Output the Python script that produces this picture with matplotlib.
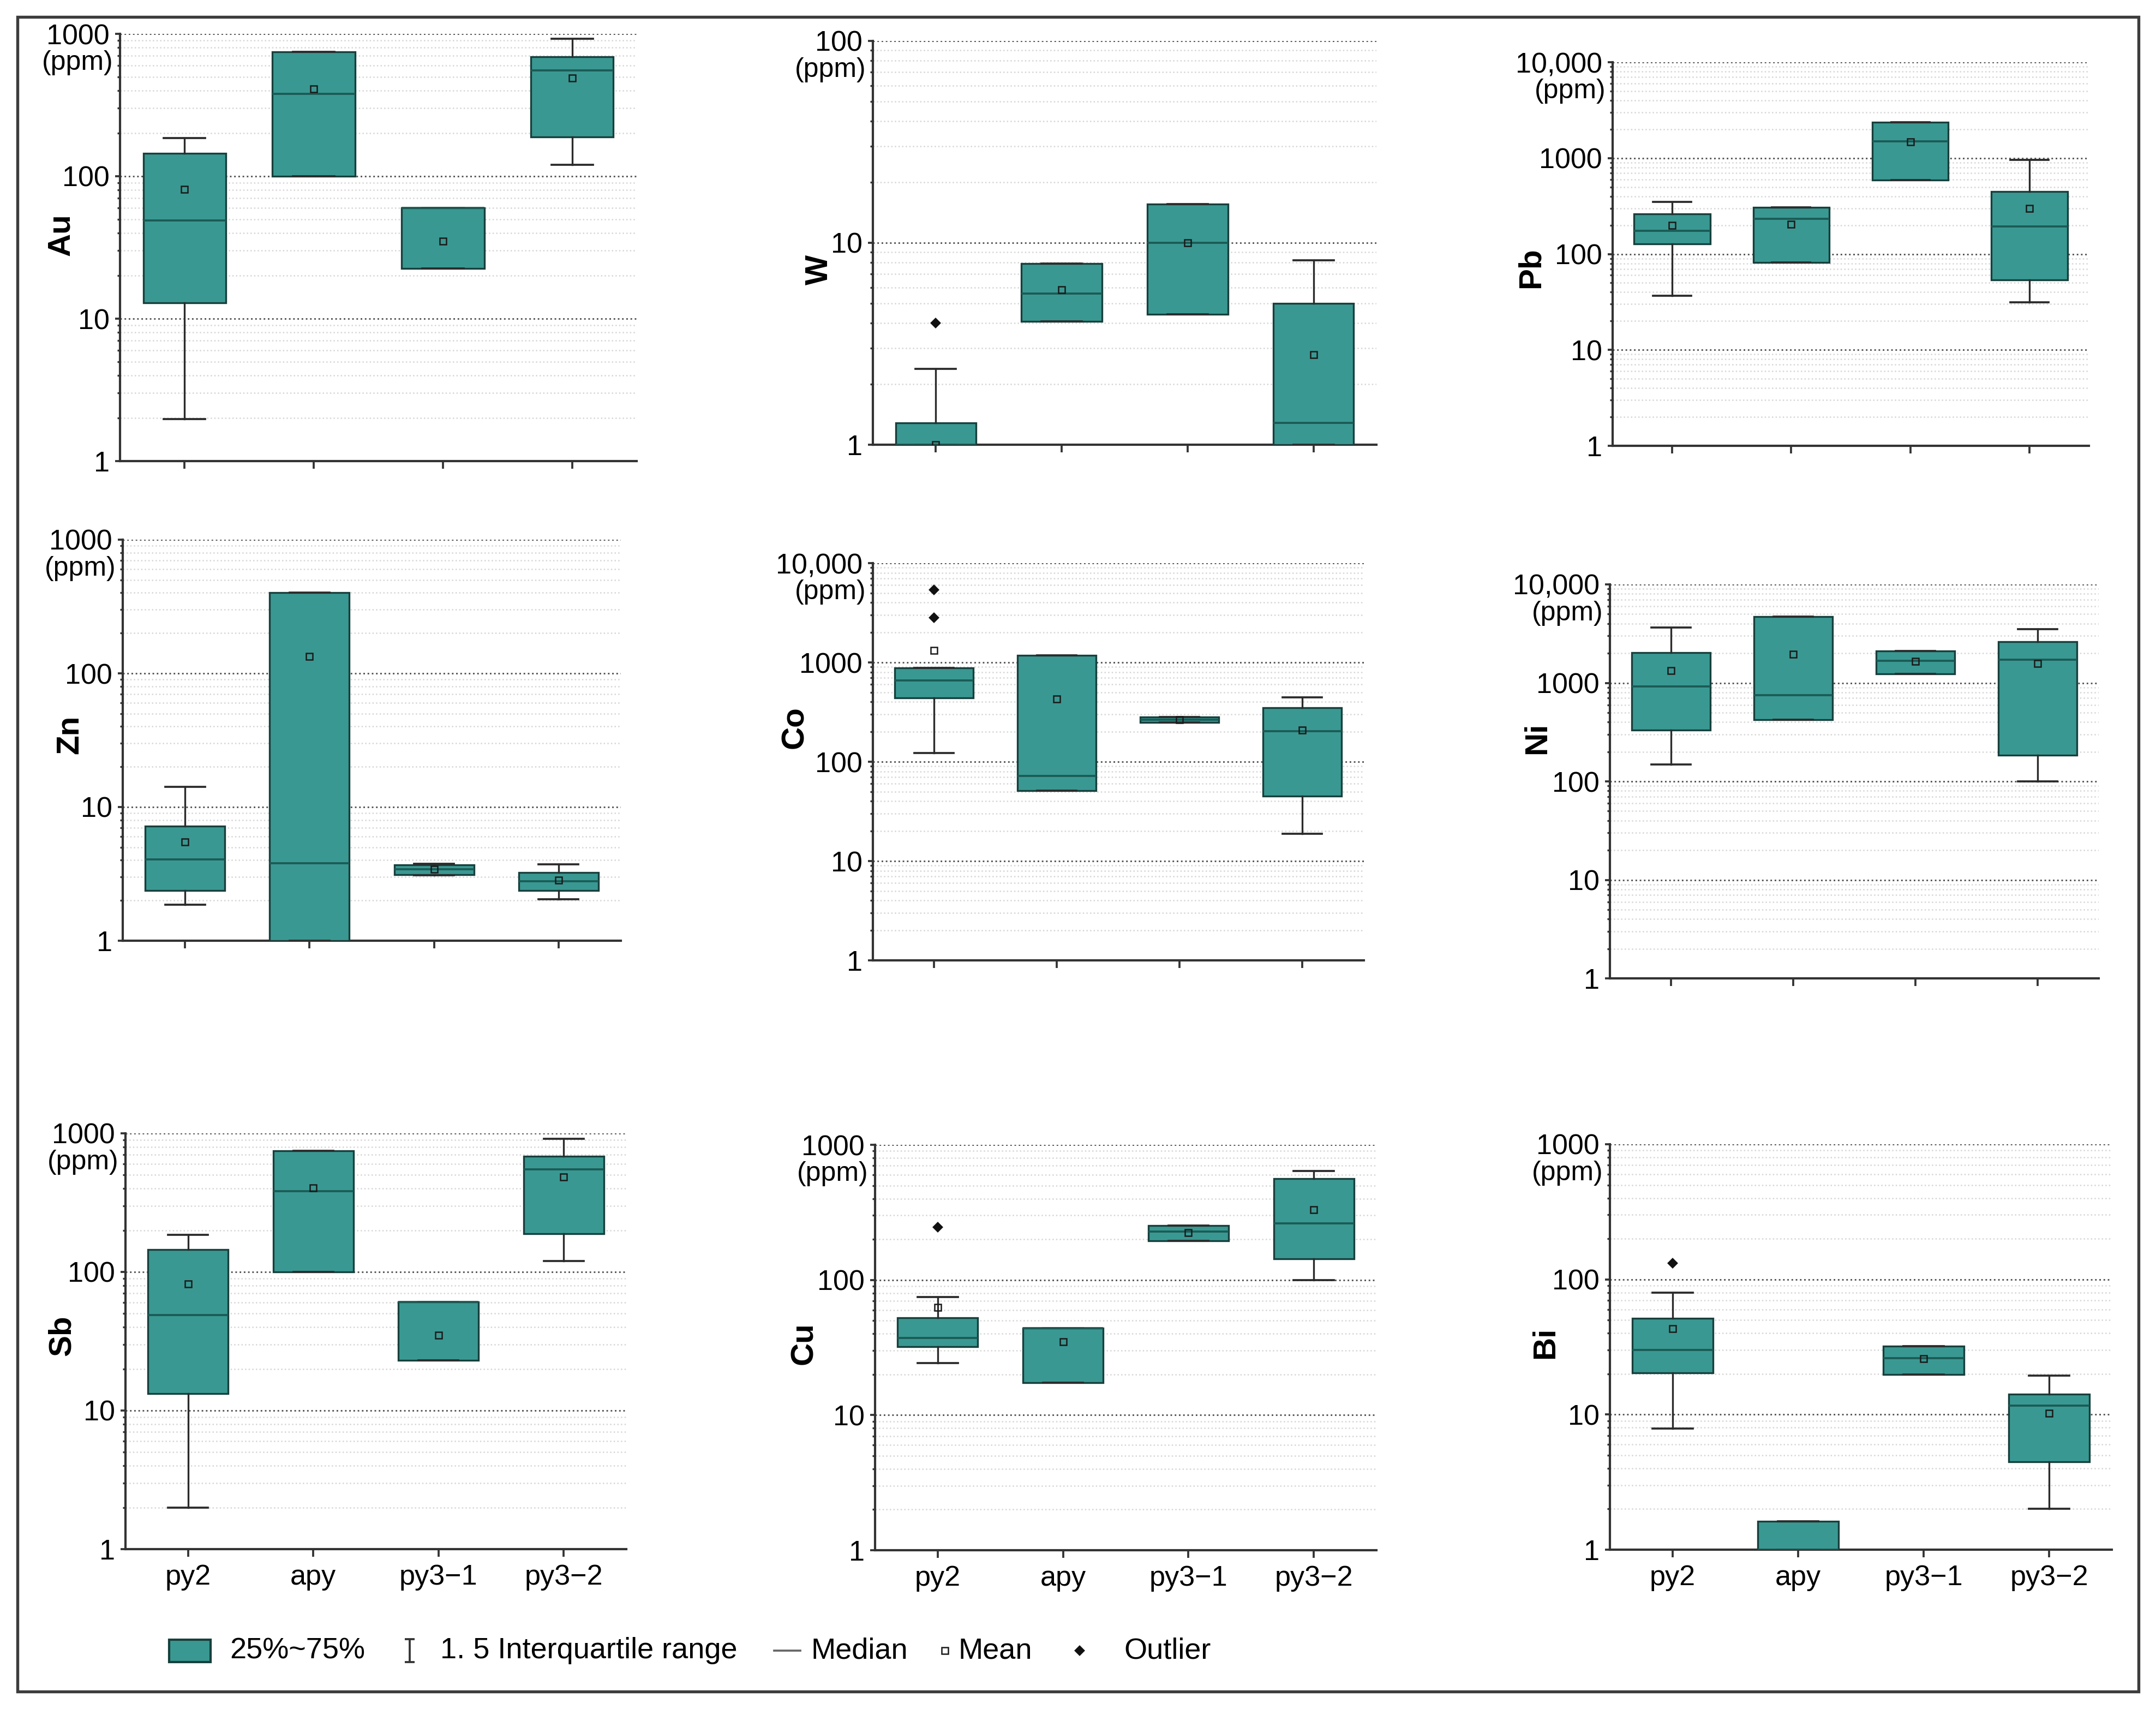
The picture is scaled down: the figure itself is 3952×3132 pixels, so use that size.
import numpy as np
import matplotlib
matplotlib.use("Agg")
import matplotlib.pyplot as plt
from matplotlib.patches import Rectangle
from matplotlib.lines import Line2D
from matplotlib.path import Path
from matplotlib.ticker import FixedLocator, FixedFormatter, LogLocator, NullFormatter

plt.rcParams['font.family'] = ['Liberation Sans', 'DejaVu Sans']

W_PX, H_PX = 3953, 3132
DPI = 300

groups = ["py2", "apy", "py3\u22121", "py3\u22122"]

# box statistics per element (ppm): lower whisker, Q1, median, Q3, upper whisker, mean, outliers
au = dict(lo=[1.97, 100, 22.6, 120], q1=[12.9, 100, 22.6, 189], med=[49, 380, 60, 553],
          q3=[145, 749, 60, 690], hi=[186, 749, 60, 922], mean=[81, 410, 35, 490],
          out=[[], [], [], []])
w = dict(lo=[1.0, 4.07, 4.43, 1.0], q1=[1.0, 4.07, 4.43, 1.0], med=[1.0, 5.6, 10, 1.28],
         q3=[1.28, 7.9, 15.6, 5.0], hi=[2.38, 7.9, 15.6, 8.2], mean=[1.0, 5.87, 10, 2.79],
         out=[[4.0], [], [], []])
pb = dict(lo=[36.5, 81.6, 590, 31.4], q1=[128, 81.6, 590, 53.6], med=[175, 232, 1500, 195],
          q3=[262, 307, 2360, 447], hi=[349, 307, 2360, 963], mean=[198, 204, 1470, 298],
          out=[[], [], [], []])
zn = dict(lo=[1.86, 1.0, 3.08, 2.05], q1=[2.38, 1.0, 3.11, 2.38], med=[4.05, 3.8, 3.41, 2.78],
          q3=[7.18, 402, 3.68, 3.24], hi=[14.2, 402, 3.75, 3.74], mean=[5.48, 134, 3.42, 2.83],
          out=[[], [], [], []])
co = dict(lo=[122, 50.9, 250, 18.8], q1=[437, 50.9, 250, 45.3], med=[656, 72, 265, 202],
          q3=[884, 1173, 281, 349], hi=[884, 1173, 281, 446], mean=[1318, 428, 265, 207],
          out=[[5395, 2805], [], [], []])
ni = dict(lo=[149, 424, 1232, 100], q1=[333, 424, 1232, 185], med=[918, 751, 1666, 1718],
          q3=[2037, 4732, 2100, 2630], hi=[3665, 4732, 2100, 3500], mean=[1331, 1945, 1650, 1578],
          out=[[], [], [], []])
sb = dict(lo=[2.0, 100, 23, 120], q1=[13.3, 100, 23, 189], med=[49, 382, 61, 551],
          q3=[145, 750, 61, 683], hi=[186, 750, 61, 914], mean=[81.6, 405, 35, 486],
          out=[[], [], [], []])
cu = dict(lo=[24.2, 17.3, 194, 100], q1=[32, 17.3, 194, 143], med=[37.3, 44, 228, 262],
          q3=[52.3, 44, 253, 564], hi=[75, 44, 253, 639], mean=[62.6, 34.9, 223, 332],
          out=[[246], [], [], []])
bi = dict(lo=[7.85, 1.0, 19.8, 2.0], q1=[20.3, 1.0, 19.8, 4.47], med=[30.1, 1.0, 26.2, 11.6],
          q3=[51.4, 1.62, 32, 14.2], hi=[79.8, 1.62, 32, 19.5], mean=[43, None, 25.9, 10.2],
          out=[[132], [], [], []])

TEAL = '#3a9892'
EDGE = '#173f3c'
MED = '#1b5a55'
WHISK = '#2b2b2b'
SPINE = '#333333'

# panel layout in pixels: left, top(value ymax), right, bottom(value 1), label x, label y
panels = [
    ("Au", au, 1000, (220, 62, 1167, 845), (112, 430), False),
    ("W", w, 100, (1600, 75, 2523, 815), (1502, 494), False),
    ("Pb", pb, 10000, (2956, 114, 3829, 817), (2807, 491), False),
    ("Zn", zn, 1000, (225, 989, 1138, 1724), (128, 1346), False),
    ("Co", co, 10000, (1600, 1032, 2500, 1760), (1457, 1333), False),
    ("Ni", ni, 10000, (2951, 1071, 3847, 1793), (2818, 1353), False),
    ("Sb", sb, 1000, (230, 2077, 1148, 2839), (114, 2448), True),
    ("Cu", cu, 1000, (1604, 2098, 2523, 2841), (1474, 2462), True),
    ("Bi", bi, 1000, (2951, 2097, 3871, 2840), (2833, 2461), True),
]

fig = plt.figure(figsize=(W_PX / DPI, H_PX / DPI), dpi=DPI)


def fx(px):
    return px / W_PX


def fy(py):
    return 1 - py / H_PX


pos = np.arange(1, 5)

for name, d, ymax, (l, t, r, b), (lx, ly), bottom in panels:
    ax = fig.add_axes([fx(l), fy(b), fx(r) - fx(l), fy(t) - fy(b)])
    stats = []
    for i in range(4):
        stats.append(dict(whislo=d["lo"][i], q1=d["q1"][i], med=d["med"][i], q3=d["q3"][i],
                          whishi=d["hi"][i], fliers=d["out"][i]))
    ax.bxp(stats, positions=pos, widths=0.64, patch_artist=True, showfliers=True,
           boxprops=dict(facecolor=TEAL, edgecolor=EDGE, linewidth=0.8),
           medianprops=dict(color=MED, linewidth=0.9),
           whiskerprops=dict(color=WHISK, linewidth=0.8),
           capprops=dict(color=WHISK, linewidth=0.9),
           flierprops=dict(marker='D', markersize=2.4, markerfacecolor='#111111',
                           markeredgecolor='#111111'),
           zorder=3)
    ax.plot(pos, np.array(d["mean"], dtype=float), ls='none', marker='s', ms=2.8,
            mfc='none', mec='#1a1a1a', mew=0.6, zorder=4)

    ax.set_yscale('log')
    ax.set_ylim(1, ymax)
    ax.set_xlim(0.5, 4.5)
    ndec = int(round(np.log10(ymax)))
    majors = [10 ** k for k in range(ndec + 1)]
    labels = ["10,000" if v == 10000 else str(v) for v in majors]
    ax.yaxis.set_major_locator(FixedLocator(majors))
    ax.yaxis.set_major_formatter(FixedFormatter(labels))
    ax.yaxis.set_minor_locator(LogLocator(base=10, subs=np.arange(2, 10)))
    ax.yaxis.set_minor_formatter(NullFormatter())

    ax.grid(which='major', axis='y', ls=':', color='#555555', lw=0.7)
    ax.grid(which='minor', axis='y', ls=':', color='#d6d6d6', lw=0.6)
    ax.set_axisbelow(True)

    for s in ('top', 'right'):
        ax.spines[s].set_visible(False)
    for s in ('left', 'bottom'):
        ax.spines[s].set_color(SPINE)
        ax.spines[s].set_linewidth(1.0)

    ax.tick_params(axis='y', which='major', direction='out', length=2.2, width=0.9,
                   color=SPINE, pad=2.4, labelsize=12.5)
    ax.tick_params(axis='y', which='minor', direction='out', length=1.2, width=0.8, color=SPINE)
    ax.set_xticks(pos)
    ax.tick_params(axis='x', direction='out', length=3.4, width=0.9, color=SPINE,
                   pad=3, labelsize=12.5)
    ax.set_xticklabels(groups if bottom else [])

    ax.annotate("(ppm)", xy=(0, ymax), xycoords=('axes fraction', 'data'),
                xytext=(-3.0, -12.8), textcoords='offset points',
                ha='right', va='center', fontsize=12)

    fig.text(fx(lx), fy(ly), name, rotation=90, fontsize=14, fontweight='bold',
             ha='center', va='center')

# legend along the bottom
leg_y = fy(3025)
narrow = ['Liberation Sans Narrow', 'Liberation Sans', 'DejaVu Sans']
fig.add_artist(Rectangle((fx(310), fy(3046)), fx(386) - fx(310), fy(3005) - fy(3046),
                         transform=fig.transFigure, facecolor=TEAL, edgecolor=EDGE, lw=1.0))
fig.text(fx(421), leg_y, "25%~75%", family=narrow, fontsize=13, va='center', ha='left')

ibeam = Path([(-0.45, 1), (0.45, 1), (0, 1), (0, -1), (-0.45, -1), (0.45, -1)],
             [Path.MOVETO, Path.LINETO, Path.MOVETO, Path.LINETO, Path.MOVETO, Path.LINETO])
fig.add_artist(Line2D([fx(751)], [leg_y], marker=ibeam, ms=10, mew=0.9, color='#333333',
                      ls='none', transform=fig.transFigure))
fig.text(fx(807), leg_y, "1. 5 Interquartile range", family=narrow, fontsize=13,
         va='center', ha='left')

fig.add_artist(Line2D([fx(1419), fx(1467)], [leg_y, leg_y], color='#666666', lw=0.9,
                      transform=fig.transFigure))
fig.text(fx(1487), leg_y, "Median", family=narrow, fontsize=13, va='center', ha='left')

fig.add_artist(Line2D([fx(1732)], [leg_y], marker='s', ms=2.8, mfc='none', mec='#1a1a1a',
                      mew=0.6, ls='none', transform=fig.transFigure))
fig.text(fx(1757), leg_y, "Mean", family=narrow, fontsize=13, va='center', ha='left')

fig.add_artist(Line2D([fx(1979)], [leg_y], marker='D', ms=2.4, mfc='#111111', mec='#111111',
                      ls='none', transform=fig.transFigure))
fig.text(fx(2060), leg_y, "Outlier", family=narrow, fontsize=13, va='center', ha='left')

# outer frame
fig.add_artist(Rectangle((fx(32), fy(3100)), fx(3920) - fx(32), fy(31) - fy(3100),
                         transform=fig.transFigure, fill=False, edgecolor='#3c3c3c', lw=1.3))

fig.savefig("out.png", dpi=DPI)
